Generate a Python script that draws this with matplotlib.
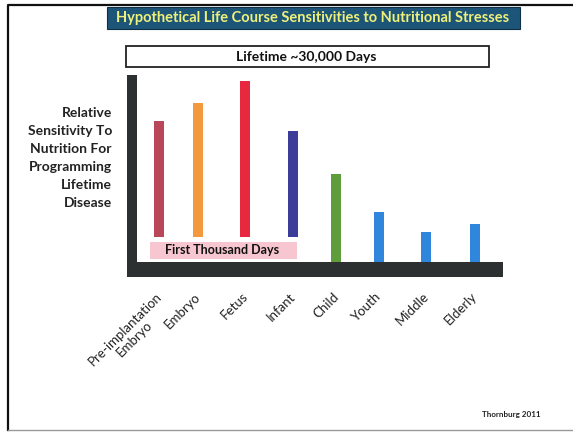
import matplotlib
matplotlib.use("Agg")
import matplotlib.pyplot as plt
from matplotlib.patches import Rectangle
from matplotlib.lines import Line2D
import matplotlib.transforms as mtransforms

# Life stages and their relative sensitivity (arbitrary units)
stages = ["Pre-implantation\nEmbryo", "Embryo", "Fetus", "Infant",
          "Child", "Youth", "Middle", "Elderly"]
sensitivity = [7.54, 8.50, 9.68, 7.00, 4.70, 2.67, 1.60, 2.03]
bar_base = [1.34, 1.34, 1.34, 1.34, 0.0, 0.0, 0.0, 0.0]
bar_colors = ["#b9475a", "#f4983e", "#e8283e", "#3b3d98",
              "#5e9c3c", "#2f86dc", "#2f86dc", "#2f86dc"]
positions = [0.0, 0.87, 1.91, 2.97, 3.93, 4.88, 5.92, 7.0]

title = "Hypothetical Life Course Sensitivities to Nutritional Stresses"
lifetime_label = "Lifetime ~30,000 Days"
window_label = "First Thousand Days"
ylabel = "Relative\nSensitivity To\nNutrition For\nProgramming\nLifetime\nDisease"
credit = "Thornburg 2011"

FONT = ["Lato", "DejaVu Sans"]
W, H = 573, 432

fig = plt.figure(figsize=(W / 100, H / 100), dpi=100)
fig.patch.set_facecolor("white")


def fx(px):
    return px / W


def fy(py):
    return 1 - py / H


ax = fig.add_axes([fx(137), fy(262), fx(503) - fx(137), fy(75) - fy(262)])
ax.set_xlim(-0.487, 7.62)
ax.set_ylim(0, 10)
for s in ax.spines.values():
    s.set_visible(False)
ax.set_yticks([])
ax.tick_params(axis="x", length=0)
ax.patch.set_alpha(0)

# "first thousand days" band beneath the early-life bars
ax.add_patch(Rectangle((-0.2, 0.16), 3.26, 0.91, facecolor="#f8c6d0",
                       edgecolor="none", zorder=1))
ax.text(1.39, 0.62, window_label, ha="center", va="center", fontsize=9,
        fontweight="bold", family=FONT, color="#111111", zorder=3)

heights = [v - b for v, b in zip(sensitivity, bar_base)]
ax.bar(positions, heights, bottom=bar_base, width=0.22, color=bar_colors,
       edgecolor="none", zorder=2)

ax.set_xticks(positions)
ax.set_xticklabels(stages, rotation=45, ha="right", va="top",
                   rotation_mode="anchor", fontsize=9.5, family=FONT,
                   color="#222222", multialignment="center")
shift = mtransforms.ScaledTranslation(-4 / 100, -1 / 100, fig.dpi_scale_trans)
for lab in ax.get_xticklabels():
    lab.set_y(-0.12)
    lab.set_transform(lab.get_transform() + shift)

# thick dark axis bars
dark = "#2c3031"
fig.add_artist(Rectangle((fx(127), fy(277)), fx(137) - fx(127), fy(75) - fy(277),
                         transform=fig.transFigure, facecolor=dark, edgecolor="none"))
fig.add_artist(Rectangle((fx(127), fy(277)), fx(503) - fx(127), fy(262) - fy(277),
                         transform=fig.transFigure, facecolor=dark, edgecolor="none"))

# title banner
fig.add_artist(Rectangle((fx(107), fy(29)), fx(520) - fx(107), fy(7) - fy(29),
                         transform=fig.transFigure, facecolor="#1d5578",
                         edgecolor="#0e2f44", linewidth=0.8))
fig.text(fx(313), fy(18), title, ha="center", va="center", fontsize=10.5,
         fontweight="bold", family=FONT, color="#eef07a")

# lifetime box
fig.add_artist(Rectangle((fx(126), fy(67)), fx(489) - fx(126), fy(46) - fy(67),
                         transform=fig.transFigure, facecolor="white",
                         edgecolor="#222222", linewidth=1.3))
fig.text(fx(306), fy(57), lifetime_label, ha="center", va="center",
         fontsize=10, fontweight="bold", family=FONT, color="#111111")

# y description
fig.text(fx(112), fy(158), ylabel, ha="right", va="center", fontsize=10,
         fontweight="bold", family=FONT, color="#222222", linespacing=1.6)

fig.text(fx(540), fy(415), credit, ha="right", va="center", fontsize=5.8,
         fontweight="bold", family=FONT, color="#222222")

# page frame
fig.add_artist(Line2D([fx(8), fx(8), fx(573)], [fy(430), fy(5), fy(5)],
                      transform=fig.transFigure, color="#111111", linewidth=1.6))
fig.add_artist(Line2D([fx(8), fx(573)], [fy(430), fy(430)],
                      transform=fig.transFigure, color="#999999", linewidth=1.0))

fig.savefig("out.png", dpi=100)
